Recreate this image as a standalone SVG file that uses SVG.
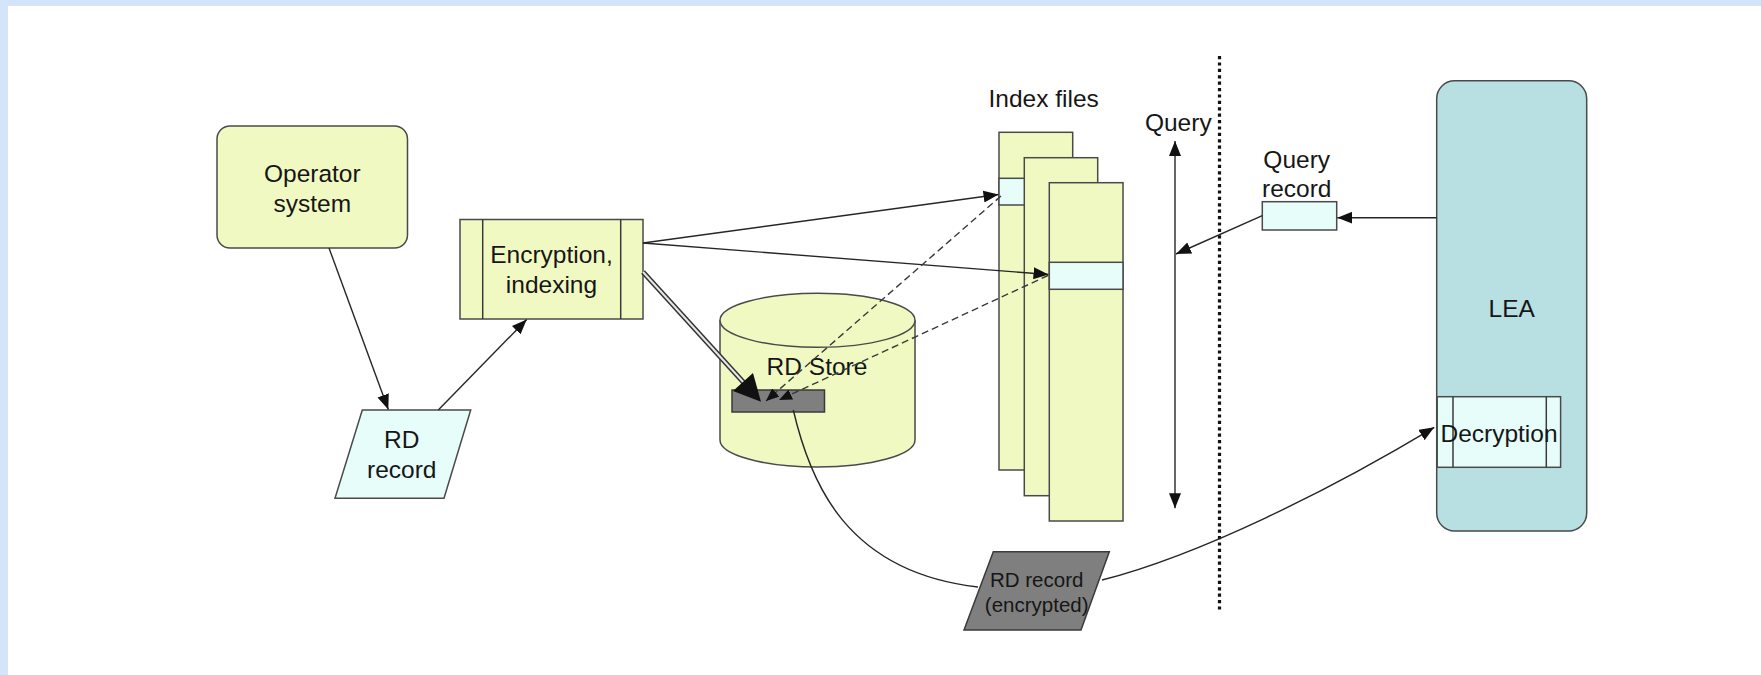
<svg xmlns="http://www.w3.org/2000/svg" width="1761" height="675" viewBox="0 0 1761 675">
  <defs>
    <style>
      text { font-family: "Liberation Sans", Arial, Helvetica, sans-serif; fill: #161616; text-anchor: middle; }
      .t { font-size: 24.5px; }
      .ts { font-size: 20.5px; }
      .yel { fill: #F1F9C3; stroke: #4a4a4a; stroke-width: 1.5; }
      .cyan { fill: #E6FDFA; stroke: #4a4a4a; stroke-width: 1.5; }
      .dark { fill: #7f7f7f; stroke: #3a3a3a; stroke-width: 1.5; }
      .lea { fill: #B8DFE2; stroke: #4a4a4a; stroke-width: 1.5; }
      .sep { fill: none; stroke: #3a3a3a; stroke-width: 1.5; }
      .edge { fill: none; stroke: #262626; stroke-width: 1.4; }
      .dash { fill: none; stroke: #3a3a3a; stroke-width: 1.4; stroke-dasharray: 7 4; }
    </style>
    <marker id="arr" markerUnits="userSpaceOnUse" viewBox="0 0 15 12" refX="15" refY="6" markerWidth="15" markerHeight="12" orient="auto-start-reverse">
      <path d="M0,0 L15,6 L0,12 z" fill="#111"/>
    </marker>
    <marker id="arrs" markerUnits="userSpaceOnUse" viewBox="0 0 13 11" refX="13" refY="5.5" markerWidth="13" markerHeight="11" orient="auto">
      <path d="M0,0 L13,5.5 L0,11 z" fill="#111"/>
    </marker>
  </defs>

  <!-- page frame -->
  <rect x="0" y="0" width="1761" height="675" fill="#ffffff"/>
  <rect x="0" y="0" width="1761" height="6" fill="#D3E4FB"/>
  <rect x="0" y="0" width="8" height="675" fill="#D3E4FB"/>

  <!-- trust boundary -->
  <line x1="1219.5" y1="56" x2="1219.5" y2="612" stroke="#111" stroke-width="3.2" stroke-dasharray="3.2 3.2"/>

  <g id="operator-system">
    <rect class="yel" x="217" y="126" width="190.5" height="122" rx="13"/>
    <text class="t" x="312.3" y="181.7">Operator</text>
    <text class="t" x="312.3" y="212.3">system</text>
  </g>

  <g id="encryption-indexing">
    <rect class="yel" x="460" y="219.5" width="183" height="99.5"/>
    <line class="sep" x1="482.7" y1="219.5" x2="482.7" y2="319"/>
    <line class="sep" x1="620.7" y1="219.5" x2="620.7" y2="319"/>
    <text class="t" x="551.5" y="263.3">Encryption,</text>
    <text class="t" x="551.5" y="293.3">indexing</text>
  </g>

  <g id="rd-record">
    <polygon class="cyan" points="362.3,410 470.7,410 444,498.3 335,498.3"/>
    <text class="t" x="401.7" y="448.3">RD</text>
    <text class="t" x="401.7" y="477.7">record</text>
  </g>

  <g id="rd-store">
    <path class="yel" d="M720,320.3 L720,440 A97.5,27 0 0 0 915,440 L915,320.3"/>
    <ellipse class="yel" cx="817.5" cy="320.3" rx="97.5" ry="27"/>
    <text class="t" x="817" y="375">RD Store</text>
    <rect class="dark" x="732" y="390" width="92.5" height="22"/>
  </g>

  <g id="index-files">
    <text class="t" x="1043.7" y="107.3">Index files</text>
    <rect class="yel" x="999" y="132.3" width="73.7" height="337.7"/>
    <rect class="cyan" x="999" y="178.3" width="73.7" height="26.7"/>
    <rect class="yel" x="1024.3" y="157.7" width="73.4" height="338"/>
    <rect class="yel" x="1049.3" y="182.7" width="73.7" height="338.3"/>
    <rect class="cyan" x="1049.3" y="262.3" width="73.7" height="27"/>
  </g>

  <g id="query">
    <text class="t" x="1178.3" y="131">Query</text>
  </g>

  <g id="query-record">
    <text class="t" x="1296.7" y="168.3">Query</text>
    <text class="t" x="1296.7" y="196.7">record</text>
    <rect class="cyan" x="1262.3" y="201.7" width="74.4" height="28.3"/>
  </g>

  <g id="lea">
    <rect class="lea" x="1436.7" y="80.7" width="150" height="450.3" rx="18"/>
    <text class="t" x="1511.7" y="316.7">LEA</text>
  </g>

  <g id="decryption">
    <rect class="cyan" x="1437.2" y="396.7" width="123.4" height="70.6"/>
    <line class="sep" x1="1453" y1="396.7" x2="1453" y2="467.3"/>
    <line class="sep" x1="1546.3" y1="396.7" x2="1546.3" y2="467.3"/>
    <text class="t" x="1499" y="441.7">Decryption</text>
  </g>

  <g id="rd-record-encrypted">
    <polygon class="dark" points="993.3,551.7 1109.3,551.7 1081,630 964,630"/>
    <text class="ts" x="1036.7" y="586.7">RD record</text>
    <text class="ts" x="1036.7" y="611.7">(encrypted)</text>
  </g>

  <g id="connectors">
    <!-- collection and encryption flow -->
    <line class="edge" x1="329" y1="248" x2="388.3" y2="409.5" marker-end="url(#arr)"/>
    <line class="edge" x1="438.3" y1="410" x2="526.7" y2="319.5" marker-end="url(#arr)"/>
    <line class="edge" x1="643" y1="243" x2="998.5" y2="194.5" marker-end="url(#arr)"/>
    <line class="edge" x1="643" y1="243" x2="1048.5" y2="274.5" marker-end="url(#arr)"/>

    <!-- storage flow: hollow double line with a large head -->
    <line x1="643" y1="272" x2="745" y2="384" stroke="#333" stroke-width="5"/>
    <line x1="643" y1="272" x2="745" y2="384" stroke="#e8e8e8" stroke-width="2"/>
    <polygon points="733,391.1 753,372.9 761,401.7" fill="#111"/>

    <!-- index entries point back into the store -->
    <line class="dash" x1="1001" y1="196" x2="766" y2="401" marker-end="url(#arrs)"/>
    <line class="dash" x1="1048" y1="275.5" x2="779" y2="400" marker-end="url(#arrs)"/>

    <!-- query path -->
    <line class="edge" x1="1175" y1="141" x2="1175" y2="508.3" marker-start="url(#arr)" marker-end="url(#arr)"/>
    <line class="edge" x1="1436.7" y1="217.7" x2="1337.3" y2="217.7" marker-end="url(#arr)"/>
    <line class="edge" x1="1262.3" y1="215.7" x2="1176" y2="254" marker-end="url(#arr)"/>

    <!-- retrieval path -->
    <path class="edge" d="M793.3,410 C810,482 846,572 978,587"/>
    <path class="edge" d="M1102,580 C1200,555 1330,490 1434.3,427.3" marker-end="url(#arr)"/>
  </g>
</svg>
